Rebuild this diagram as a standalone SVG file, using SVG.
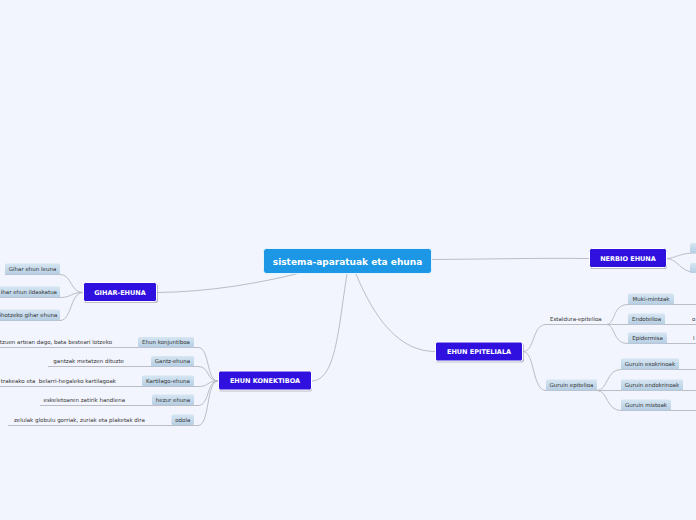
<svg xmlns="http://www.w3.org/2000/svg" width="696" height="520" viewBox="0 0 696 520">
<defs>
<linearGradient id="sub" x1="0" y1="0" x2="0" y2="1">
<stop offset="0" stop-color="#d6e6f2"/>
<stop offset="1" stop-color="#b6cee3"/>
</linearGradient>
</defs>
<style>
.bg{fill:#f2f5fd}
.conn path{fill:none;stroke:#bcbcc4;stroke-width:1}
.main{fill:#1b97e5;stroke:#ffffff;stroke-width:0.8}
.mt{font-family:"DejaVu Sans",Verdana,sans-serif;font-weight:bold;font-size:9px;fill:#ffffff;text-anchor:middle}
.br{fill:#3010df;stroke:#ffffff;stroke-width:1}
.sh{fill:#9a9aa8;opacity:0.6}
.bt{font-family:"DejaVu Sans",Verdana,sans-serif;font-weight:bold;font-size:6.5px;fill:#ffffff;text-anchor:middle}
.sb{fill:url(#sub)}
.st{font-family:"DejaVu Sans",Verdana,sans-serif;font-size:5.5px;fill:#333333;text-anchor:middle}
.pt{font-family:"DejaVu Sans",Verdana,sans-serif;font-size:5.5px;fill:#333333;white-space:pre}
</style>
<rect class="bg" x="0" y="0" width="696" height="520"/>

<g id="connectors" class="conn">
<path d="M 432 259.5 C 500 259, 530 258, 590 258.5"/>
<path d="M 300 273 C 260 283, 210 292, 157 292.5"/>
<path d="M 347 274 C 338 330, 336 381, 311 381"/>
<path d="M 356 274 C 375 320, 400 351.5, 435 351.5"/>
<path d="M 666 258.5 C 676 258.5, 678 253, 696 253"/>
<path d="M 666 258.5 C 678 258.5, 680 272.5, 696 272.5"/>
<path d="M 5 274.5 H 60 C 72 274.5, 70 292.5, 83 292.5"/>
<path d="M 0 297.5 H 60 C 72 297.5, 70 292.5, 83 292.5"/>
<path d="M 0 320.5 H 60 C 72 320.5, 70 292.5, 83 292.5"/>
<path d="M 0 347.5 H 198 C 210 347.5, 206 381, 218 381"/>
<path d="M 48 366.5 H 198 C 210 366.5, 206 381, 218 381"/>
<path d="M 0 386.5 H 198 C 210 386.5, 206 381, 218 381"/>
<path d="M 40 405.5 H 198 C 210 405.5, 206 381, 218 381"/>
<path d="M 8 425.5 H 198 C 210 425.5, 206 381, 218 381"/>
<path d="M 523 351.5 C 535 351.5, 532 324.5, 546 324.5 H 612"/>
<path d="M 523 351.5 C 535 351.5, 532 390.5, 546 390.5 H 608"/>
<path d="M 606 324.5 C 616 324.5, 612 304.5, 628 304.5 H 696"/>
<path d="M 606 324.5 H 696"/>
<path d="M 606 324.5 C 616 324.5, 612 343.5, 628 343.5 H 696"/>
<path d="M 597 390.5 C 608 390.5, 606 369.5, 621 369.5 H 696"/>
<path d="M 597 390.5 H 696"/>
<path d="M 597 390.5 C 608 390.5, 606 410.5, 621 410.5 H 696"/>
</g>

<g id="center">
<rect x="263.5" y="248.5" width="168" height="25" rx="3" class="main"/>
<text x="347.5" y="265" class="mt">sistema-aparatuak eta ehuna</text>
</g>

<g id="nerbio">
<rect x="590" y="250" width="77" height="19" rx="2" class="sh"/>
<rect x="589.5" y="248.5" width="77" height="19" rx="2" class="br"/>
<text x="628" y="260.5" class="bt">NERBIO EHUNA</text>
</g>
<g id="nerbio-c1"><rect x="690" y="243" width="20" height="10" rx="1.5" class="sb"/></g>
<g id="nerbio-c2"><rect x="690" y="263" width="20" height="10" rx="1.5" class="sb"/></g>

<g id="gihar">
<rect x="84" y="284" width="74" height="19" rx="2" class="sh"/>
<rect x="83.5" y="282.5" width="73" height="19" rx="2" class="br"/>
<text x="120" y="294.5" class="bt">GIHAR-EHUNA</text>
</g>
<g id="gihar-leuna">
<rect x="5" y="263.5" width="55" height="11" rx="1.5" class="sb"/>
<text x="32.5" y="271" class="st">Gihar ehun leuna</text>
</g>
<g id="gihar-ildaskatua">
<rect x="-5" y="286.5" width="65" height="11" rx="1.5" class="sb"/>
<text x="57" y="294" class="pt" text-anchor="end">ihar ehun ildaskatua</text>
</g>
<g id="gihar-bihotz">
<rect x="-8" y="309.5" width="68" height="11" rx="1.5" class="sb"/>
<text x="57.5" y="317" class="pt" text-anchor="end" font-size="5.4">ihotzeko gihar ehuna</text>
</g>

<g id="konektiboa">
<rect x="219" y="372.5" width="93" height="19" rx="2" class="sh"/>
<rect x="218.5" y="371" width="93" height="19" rx="2" class="br"/>
<text x="265" y="383" class="bt">EHUN KONEKTIBOA</text>
</g>
<g id="konjuntiboa">
<rect x="138" y="337" width="56" height="10.5" rx="1.5" class="sb"/>
<text x="166" y="344.3" class="st">Ehun konjuntiboa</text>
</g>
<g id="konjuntiboa-t"><text x="112" y="344" class="pt" text-anchor="end">tzuen artean dago, bata besteari lotzeko</text></g>
<g id="gantz">
<rect x="151" y="356" width="43" height="10.5" rx="1.5" class="sb"/>
<text x="172.5" y="363.3" class="st">Gantz-ehuna</text>
</g>
<g id="gantz-t"><text x="124" y="363" class="pt" text-anchor="end">gantzak metatzen dituzte</text></g>
<g id="kartilago">
<rect x="142" y="375.5" width="52" height="10.5" rx="1.5" class="sb"/>
<text x="168" y="382.8" class="st">Kartilago-ehuna</text>
</g>
<g id="kartilago-t"><text x="116" y="382.5" class="pt" text-anchor="end">trakeako eta  belarri-hegaleko kartilagoak</text></g>
<g id="hezur">
<rect x="152" y="394.5" width="42" height="10.5" rx="1.5" class="sb"/>
<text x="173" y="401.8" class="st">hezur ehuna</text>
</g>
<g id="hezur-t"><text x="125" y="401.5" class="pt" text-anchor="end">eskeletoaren zatirik handiena</text></g>
<g id="odola">
<rect x="171.5" y="414.5" width="22.5" height="10.5" rx="1.5" class="sb"/>
<text x="182.8" y="421.8" class="st">odola</text>
</g>
<g id="odola-t"><text x="145" y="421.5" class="pt" text-anchor="end">zelulak globulu gorriak, zuriak eta plaketak dira</text></g>

<g id="epiteliala">
<rect x="436" y="343.5" width="88" height="19" rx="2" class="sh"/>
<rect x="435.5" y="342" width="87" height="19" rx="2" class="br"/>
<text x="479" y="354" class="bt">EHUN EPITELIALA</text>
</g>
<g id="estaldura"><text x="550" y="321" class="pt">Estaldura-epitelioa</text></g>
<g id="guruin-ep">
<rect x="546" y="379.5" width="51" height="11" rx="1.5" class="sb"/>
<text x="571.5" y="387" class="st">Guruin epitelioa</text>
</g>
<g id="muki">
<rect x="628" y="293.5" width="46" height="11" rx="1.5" class="sb"/>
<text x="651" y="301" class="st">Muki-mintzak</text>
</g>
<g id="endotelioa">
<rect x="628" y="313.5" width="37" height="11" rx="1.5" class="sb"/>
<text x="646.5" y="321" class="st">Endotelioa</text>
</g>
<g id="endotelioa-t"><text x="692" y="321" class="pt">o</text></g>
<g id="epidermisa">
<rect x="628" y="332.5" width="39" height="11" rx="1.5" class="sb"/>
<text x="647.5" y="340" class="st">Epidermisa</text>
</g>
<g id="epidermisa-t"><text x="693" y="340" class="pt">l</text></g>
<g id="exokrinoak">
<rect x="621" y="358.5" width="58" height="11" rx="1.5" class="sb"/>
<text x="650" y="366" class="st">Guruin exokrinoak</text>
</g>
<g id="endokrinoak">
<rect x="621" y="379.5" width="62" height="11" rx="1.5" class="sb"/>
<text x="652" y="387" class="st">Guruin endokrinoak</text>
</g>
<g id="mistoak">
<rect x="621" y="399.5" width="50" height="11" rx="1.5" class="sb"/>
<text x="646" y="407" class="st">Guruin mistoak</text>
</g>
</svg>
